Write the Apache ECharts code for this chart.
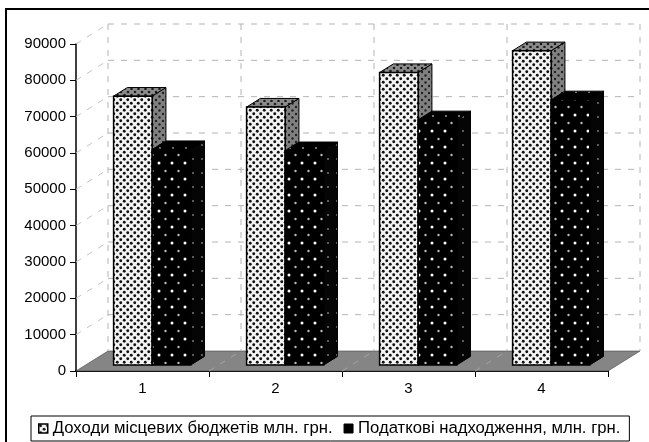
<!DOCTYPE html>
<html><head><meta charset="utf-8">
<style>html,body{margin:0;padding:0;background:#fff}#c{width:649px;height:442px}</style>
<script src="https://cdn.jsdelivr.net/npm/echarts@6/dist/echarts.min.js"></script>
</head><body><div id="c"></div>
<script>
var categories = ['1','2','3','4'];
var incomeName = 'Доходи місцевих бюджетів млн. грн.';
var taxName = 'Податкові надходження, млн. грн.';
var incomeValues = [74000, 71000, 80500, 86500];
var taxValues = [59300, 59000, 67500, 73000];
var yTicks = [0,10000,20000,30000,40000,50000,60000,70000,80000,90000];

function dots(w,h,bg,pts){
  var c=document.createElement('canvas');c.width=w;c.height=h;var x=c.getContext('2d');
  x.fillStyle=bg;x.fillRect(0,0,w,h);
  pts.forEach(function(p){x.fillStyle=p[3];x.beginPath();x.arc(p[0],p[1],p[2],0,Math.PI*2);x.fill();});
  return {image:c,repeat:'repeat'};
}
var lightFace = dots(7,7,'#f4f4f4',[[1.75,1.75,1.45,'#111'],[5.25,5.25,1.45,'#111']]);
var lightTop = dots(7,6,'#8c8c8c',[[2,2,1.3,'#1c1c1c'],[5.5,5,1.3,'#1c1c1c']]);
var lightSide = dots(7,7,'#808080',[[2,2,1.2,'#222'],[5.5,5.5,1.2,'#222']]);
var darkFace = dots(13,16,'#000',[[3,3,1.5,'#fff'],[9.5,11,1.2,'#bbb']]);
var darkTop = dots(13,8,'#000',[[4,4,1,'#999']]);
var darkSide = dots(9,14,'#050505',[[4,5,1,'#777']]);

var DX=32, DY=-20, BASE=0.3, DEPTH=0.43;   // box depth as share of the floor depth
var chart = echarts.init(document.getElementById('c'),null,{renderer:'canvas'});

function poly(pts,fill,stroke,lw,dash,z){
  return {type:'polygon',z2:z||0,shape:{points:pts},style:{fill:fill,stroke:stroke||null,lineWidth:lw||0,lineDash:dash||null}};
}
function line(a,b,stroke,lw,dash,z){
  return {type:'line',z2:z||0,shape:{x1:a[0],y1:a[1],x2:b[0],y2:b[1]},style:{stroke:stroke,lineWidth:lw,lineDash:dash||null}};
}
function barRender(slot,faces){
  return function(params,api){
    var base=api.coord([api.value(0),0]), top=api.coord([api.value(0),api.value(1)]);
    var band=api.size([1,0])[0];
    var barW=band*0.29, x0=base[0]-band/2+band*0.2105+slot*barW;
    var ox=DX*BASE, oy=DY*BASE, dx=DX*DEPTH, dy=DY*DEPTH;
    var L=x0+ox, R=L+barW, T=top[1]+oy, B=base[1]+oy;
    return {type:'group',children:[
      poly([[R,T],[R+dx,T+dy],[R+dx,B+dy],[R,B]],faces[2],'#000',1),
      poly([[L,T],[L+dx,T+dy],[R+dx,T+dy],[R,T]],faces[1],'#000',1),
      poly([[L,T],[R,T],[R,B],[L,B]],faces[0],'#000',1.5)
    ]};
  };
}
function wallRender(params,api){
  var cs=params.coordSys, c=[], D=[6,7], G='#b4b4b4';
  var x0=cs.x, x1=cs.x+cs.width, y0=cs.y+cs.height;
  c.push(poly([[x0,y0],[x0+DX,y0+DY],[x1+DX,y0+DY],[x1,y0]],'#858585','#444',0.6));
  yTicks.forEach(function(v){
    var y=api.coord([0,v])[1];
    if(v>0){c.push(line([x0+DX,y+DY],[x1+DX,y+DY],G,1,D));}
    if(v>0){c.push(line([x0,y],[x0+DX,y+DY],'#c4c4c4',1,D));}
  });
  for(var i=0;i<=categories.length;i++){
    var xb=x0+i*cs.width/categories.length, x=xb+DX;
    c.push(line([x,cs.y+DY],[x,y0+DY],G,1,D));
    if(i>0&&i<categories.length){c.push(line([xb,y0],[x,y0+DY],'#a4a4a4',1,D));}
  }
  return {type:'group',children:c};
}
chart.setOption({
  animation:false,
  backgroundColor:'#fff',
  textStyle:{fontFamily:'"Liberation Sans",Arial,sans-serif'},
  grid:{left:76,right:41,top:44,height:327,containLabel:false},
  xAxis:{type:'category',data:categories,boundaryGap:true,
    axisLine:{lineStyle:{color:'#000',width:2}},axisTick:{show:true,alignWithLabel:false,length:6,lineStyle:{color:'#000',width:1}},
    axisLabel:{color:'#000',fontSize:15,margin:10},splitLine:{show:false}},
  yAxis:{type:'value',min:0,max:90000,interval:10000,
    axisLine:{show:true,lineStyle:{color:'#000',width:1.5}},axisTick:{show:true,length:6,lineStyle:{color:'#000',width:1}},
    axisLabel:{color:'#000',fontSize:15,margin:10,formatter:function(v){return String(v);}},splitLine:{show:false}},
  legend:{left:31,top:416,padding:[4,9,4,7],itemGap:11,itemWidth:9,itemHeight:9,
    icon:'rect',borderColor:'#000',borderWidth:1,
    textStyle:{color:'#000',fontSize:16.7,fontFamily:'"Liberation Sans",Arial,sans-serif'},
    data:[{name:incomeName,itemStyle:{color:lightFace,borderColor:'#000',borderWidth:1.5}},
          {name:taxName,itemStyle:{color:'#000',borderColor:'#000',borderWidth:1}}]},
  graphic:[{type:'rect',silent:true,z:-1,shape:{x:6,y:9,width:700,height:500},style:{fill:'none',stroke:'#000',lineWidth:2}}],
  series:[
    {type:'custom',silent:true,z:1,renderItem:wallRender,data:[[0,0]],clip:false},
    {type:'custom',name:incomeName,z:3,clip:false,renderItem:barRender(0,[lightFace,lightTop,lightSide]),
      encode:{x:0,y:1},data:incomeValues.map(function(v,i){return [i,v];})},
    {type:'custom',name:taxName,z:4,clip:false,renderItem:barRender(1,[darkFace,darkTop,darkSide]),
      encode:{x:0,y:1},data:taxValues.map(function(v,i){return [i,v];})}
  ]
});
</script></body></html>
